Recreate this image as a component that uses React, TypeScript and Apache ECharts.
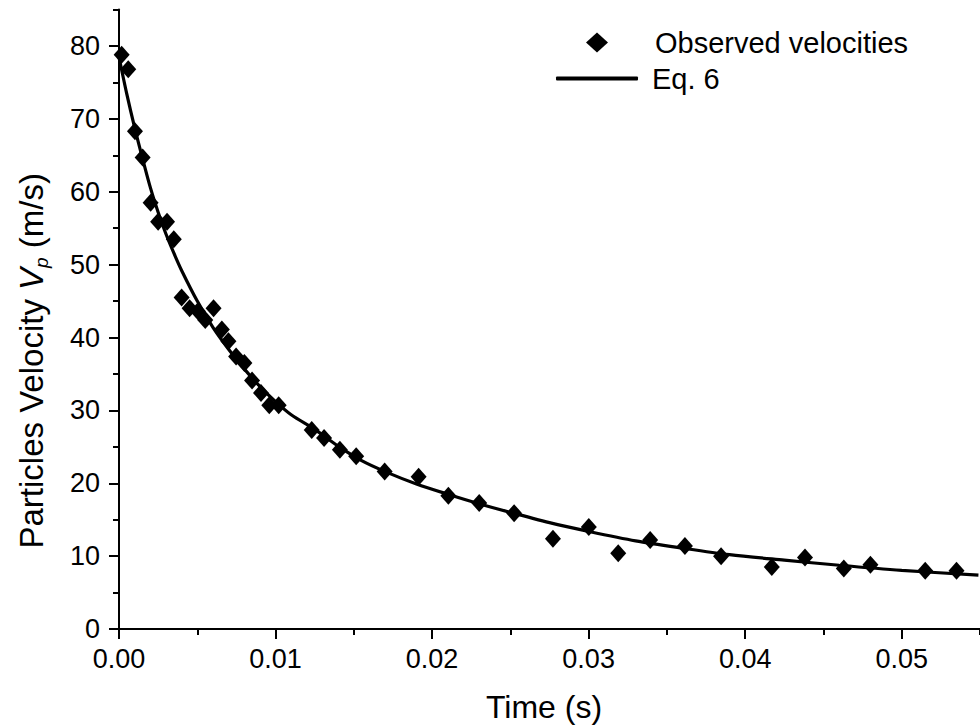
import React, { useEffect, useRef } from "react";
import * as echarts from "echarts";

// Observed velocities (time in s, velocity in m/s)
const obsTime = [
  0.00017, 0.00059, 0.00102, 0.00151, 0.00202, 0.0025, 0.00307, 0.0035, 0.004, 0.00451,
  0.00504, 0.00551, 0.00604, 0.00657, 0.00699, 0.00748, 0.00801, 0.0085, 0.00907, 0.0096,
  0.0102, 0.01231, 0.0131, 0.01411, 0.01515, 0.01697, 0.01914, 0.02104, 0.02301, 0.02524,
  0.02772, 0.03001, 0.03189, 0.03393, 0.03615, 0.03846, 0.0417, 0.04382, 0.0463, 0.048,
  0.0515, 0.0535,
];
const obsVel = [
  78.8, 76.8, 68.3, 64.7, 58.5, 55.9, 55.9, 53.5, 45.5, 44.0,
  43.6, 42.4, 44.0, 41.1, 39.5, 37.4, 36.5, 34.1, 32.4, 30.7,
  30.7, 27.3, 26.2, 24.6, 23.7, 21.6, 20.9, 18.3, 17.3, 15.9,
  12.4, 14.0, 10.4, 12.2, 11.4, 10.0, 8.5, 9.8, 8.3, 8.8,
  8.0, 8.0,
];

// Eq. 6 fitted curve
const fitTime = [
  0, 0.0005, 0.001, 0.0015, 0.002, 0.0025, 0.003, 0.0035, 0.004, 0.005,
  0.006, 0.007, 0.008, 0.009, 0.01, 0.011, 0.0125, 0.014, 0.0155, 0.017,
  0.019, 0.021, 0.023, 0.025, 0.0275, 0.03, 0.033, 0.036, 0.039, 0.0425,
  0.046, 0.05, 0.0549,
];
const fitVel = [
  78.5, 73.4, 68.8, 64.6, 60.6, 57.2, 54.2, 51.6, 49.2, 45.0,
  41.4, 38.4, 35.7, 33.3, 31.2, 29.4, 27.4, 25.1, 23.1, 21.6,
  19.9, 18.5, 17.2, 16.0, 14.6, 13.4, 12.1, 11.1, 10.2, 9.45,
  8.75, 8.05, 7.4,
];

const xMajorTicks = [0, 0.01, 0.02, 0.03, 0.04, 0.05];
const yMajorTicks = [0, 10, 20, 30, 40, 50, 60, 70, 80];

const FONT = "'Liberation Sans', Arial, Helvetica, sans-serif";

export default function App() {
  const ref = useRef<HTMLDivElement>(null);

  useEffect(() => {
    if (!ref.current) return;
    const chart = echarts.init(ref.current, undefined, { renderer: "svg" });

    const axisLineStyle = { color: "#000", width: 2 };

    const option: any = {
      animation: false,
      backgroundColor: "#fff",
      textStyle: { fontFamily: FONT, color: "#000" },
      grid: { left: 119, top: 9.6, width: 865, height: 623, containLabel: false },
      legend: [
        {
          data: ["Observed velocities"],
          left: 586,
          top: 28,
          padding: 0,
          itemWidth: 22,
          itemHeight: 20,
          icon: "diamond",
          selectedMode: false,
          itemStyle: { color: "#000" },
          textStyle: { fontSize: 29, color: "#000", fontFamily: FONT, padding: [0, 0, 0, 42] },
        },
        {
          data: ["Eq. 6"],
          left: 556,
          top: 64,
          padding: 0,
          itemWidth: 82,
          itemHeight: 4,
          icon: "roundRect",
          selectedMode: false,
          itemStyle: { color: "#000", borderWidth: 0 },
          textStyle: { fontSize: 29, color: "#000", fontFamily: FONT, padding: [0, 0, 0, 9] },
        },
      ],
      xAxis: [
        {
          type: "value",
          min: 0,
          max: 0.055,
          interval: 0.01,
          position: "bottom",
          axisLine: { show: true, lineStyle: axisLineStyle },
          axisTick: { show: true, length: 10, lineStyle: { width: 2, color: "#000" }, customValues: xMajorTicks },
          axisLabel: {
            fontSize: 27,
            color: "#000",
            fontFamily: FONT,
            margin: 16,
            customValues: xMajorTicks,
            formatter: (v: number) => v.toFixed(2),
          },
          splitLine: { show: false },
          name: "Time (s)",
          nameLocation: "middle",
          nameGap: 62,
          nameTextStyle: { fontSize: 32, color: "#000", fontFamily: FONT, padding: [0, 11, 0, 0] },
        },
        {
          type: "value",
          min: 0,
          max: 0.055,
          interval: 0.005,
          position: "bottom",
          offset: 0,
          axisLine: { show: false },
          axisTick: { show: true, length: 6, lineStyle: { width: 2, color: "#000" } },
          axisLabel: { show: false },
          splitLine: { show: false },
        },
      ],
      yAxis: [
        {
          type: "value",
          min: 0,
          max: 85,
          interval: 10,
          position: "left",
          axisLine: { show: true, lineStyle: axisLineStyle },
          axisTick: { show: true, length: 10, lineStyle: { width: 2, color: "#000" }, customValues: yMajorTicks },
          axisLabel: {
            fontSize: 27,
            color: "#000",
            fontFamily: FONT,
            margin: 19,
            customValues: yMajorTicks,
          },
          splitLine: { show: false },
          name: "Particles Velocity {i|V}{s|p} (m/s)",
          nameLocation: "middle",
          nameRotate: 90,
          nameGap: 68,
          nameTextStyle: {
            fontSize: 33,
            color: "#000",
            fontFamily: FONT,
            lineHeight: 40,
            padding: [0, 83, 0, 0],
            rich: {
              i: { fontSize: 33, fontStyle: "italic", fontFamily: FONT, color: "#000", lineHeight: 40 },
              s: {
                fontSize: 19,
                fontStyle: "italic",
                fontFamily: FONT,
                color: "#000",
                lineHeight: 19,
                verticalAlign: "bottom",
              },
            },
          },
        },
        {
          type: "value",
          min: 0,
          max: 85,
          interval: 5,
          position: "left",
          offset: 0,
          axisLine: { show: false },
          axisTick: { show: true, length: 6, lineStyle: { width: 2, color: "#000" } },
          axisLabel: { show: false },
          splitLine: { show: false },
        },
      ],
      series: [
        {
          name: "Eq. 6",
          type: "line",
          xAxisIndex: 0,
          yAxisIndex: 0,
          data: fitTime.map((t, i) => [t, fitVel[i]]),
          smooth: 0.3,
          symbol: "none",
          showSymbol: false,
          lineStyle: { color: "#000", width: 3.2 },
          itemStyle: { color: "#000" },
          z: 2,
        },
        {
          name: "Observed velocities",
          type: "scatter",
          xAxisIndex: 0,
          yAxisIndex: 0,
          data: obsTime.map((t, i) => [t, obsVel[i]]),
          symbol: "diamond",
          symbolSize: [16, 18],
          itemStyle: { color: "#000", opacity: 1 },
          z: 3,
        },
      ],
    };

    chart.setOption(option);
    return () => chart.dispose();
  }, []);

  return (
    <div
      ref={ref}
      style={{ position: "fixed", left: 0, top: 0, width: 980, height: 728, background: "#fff" }}
    />
  );
}
